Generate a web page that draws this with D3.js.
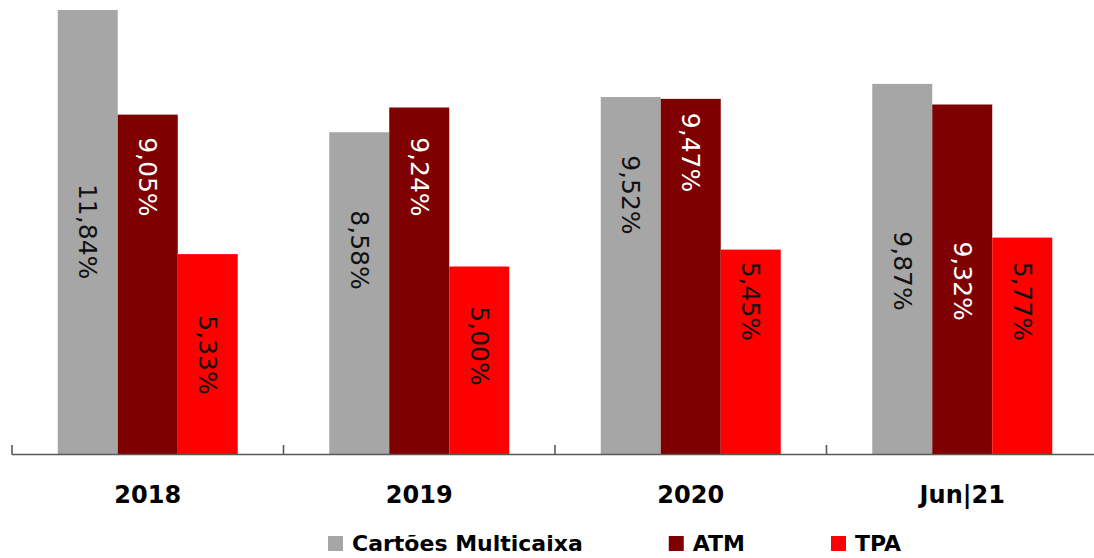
<!DOCTYPE html>
<html>
<head>
<meta charset="utf-8">
<script src="https://cdn.jsdelivr.net/npm/d3@7/dist/d3.min.js"></script>
<style>
  html, body { margin: 0; padding: 0; background: #fff; }
  svg { display: block; }
</style>
</head>
<body>
<svg id="chart" width="1094" height="558"></svg>
<script>
// Categories and series (percentages)
const categories = ["2018", "2019", "2020", "Jun|21"];
const seriesNames = ["Cartões Multicaixa", "ATM", "TPA"];
const cartoes = [11.84, 8.58, 9.52, 9.87];
const atm = [9.05, 9.24, 9.47, 9.32];
const tpa = [5.33, 5.00, 5.45, 5.77];

// Where each value label sits along its bar, in the same percentage units
const cartoesLabelAt = [5.93, 5.44, 6.91, 4.88];
const atmLabelAt = [7.39, 7.39, 8.04, 4.61];
const tpaLabelAt = [2.64, 2.88, 4.07, 4.07];

const seriesValues = [cartoes, atm, tpa];
const seriesLabelAt = [cartoesLabelAt, atmLabelAt, tpaLabelAt];
const colors = ["#a6a6a6", "#7f0000", "#ff0000"];
const labelColors = ["#111111", "#ffffff", "#111111"];

const svg = d3.select("#chart");

const x0 = d3.scaleBand().domain(categories).range([12, 1098]).paddingInner(0).paddingOuter(0);
const x1 = d3.scaleBand().domain(seriesNames).range([0, x0.bandwidth()])
  .paddingInner(0).paddingOuter(0.7625);
const y = d3.scaleLinear().domain([0, 12]).range([454, 4]);

const pt = d3.formatLocale({ decimal: ",", thousands: " ", grouping: [3], currency: ["", "€"] });
const fmt = v => pt.format(".2f")(v) + "%";

const rows = [];
categories.forEach((c, i) => {
  seriesNames.forEach((s, j) => {
    rows.push({ cat: c, series: s, j, value: seriesValues[j][i], labelAt: seriesLabelAt[j][i] });
  });
});

// Bars
svg.append("g").selectAll("rect").data(rows).join("rect")
  .attr("x", d => x0(d.cat) + x1(d.series))
  .attr("y", d => y(d.value))
  .attr("width", x1.bandwidth())
  .attr("height", d => y(0) - y(d.value))
  .attr("fill", d => colors[d.j]);

// Value labels, rotated to read downward
svg.append("g").selectAll("text").data(rows).join("text")
  .attr("transform", d => `translate(${x0(d.cat) + x1(d.series) + x1.bandwidth() / 2},${y(d.labelAt)}) rotate(90)`)
  .attr("text-anchor", "middle")
  .attr("dominant-baseline", "central")
  .attr("font-family", "DejaVu Sans, sans-serif")
  .attr("font-size", 25)
  .attr("fill", d => labelColors[d.j])
  .text(d => fmt(d.value));

// Category axis
const axisG = svg.append("g");
axisG.append("line")
  .attr("x1", x0.range()[0]).attr("x2", x0.range()[1])
  .attr("y1", y(0) + 0.5).attr("y2", y(0) + 0.5)
  .attr("stroke", "#595959").attr("stroke-width", 1.6);
axisG.selectAll("line.tick").data(categories).join("line")
  .attr("class", "tick")
  .attr("x1", d => x0(d)).attr("x2", d => x0(d))
  .attr("y1", y(0) + 0.5).attr("y2", y(0) - 9)
  .attr("stroke", "#595959").attr("stroke-width", 1.6);
axisG.selectAll("text").data(categories).join("text")
  .attr("x", d => x0(d) + x0.bandwidth() / 2)
  .attr("y", 503)
  .attr("text-anchor", "middle")
  .attr("font-family", "DejaVu Sans, sans-serif")
  .attr("font-weight", "bold")
  .attr("font-size", 24)
  .attr("fill", "#000")
  .text(d => d);

// Legend
const legend = svg.append("g");
let lx = 328;
seriesNames.forEach((s, j) => {
  legend.append("rect")
    .attr("x", lx).attr("y", 536).attr("width", 15).attr("height", 15)
    .attr("fill", colors[j]);
  const t = legend.append("text")
    .attr("x", lx + 24).attr("y", 551)
    .attr("font-family", "DejaVu Sans, sans-serif")
    .attr("font-weight", "bold")
    .attr("font-size", 22)
    .attr("fill", "#000")
    .text(s);
  lx += 24 + t.node().getComputedTextLength() + 86;
});
</script>
</body>
</html>
